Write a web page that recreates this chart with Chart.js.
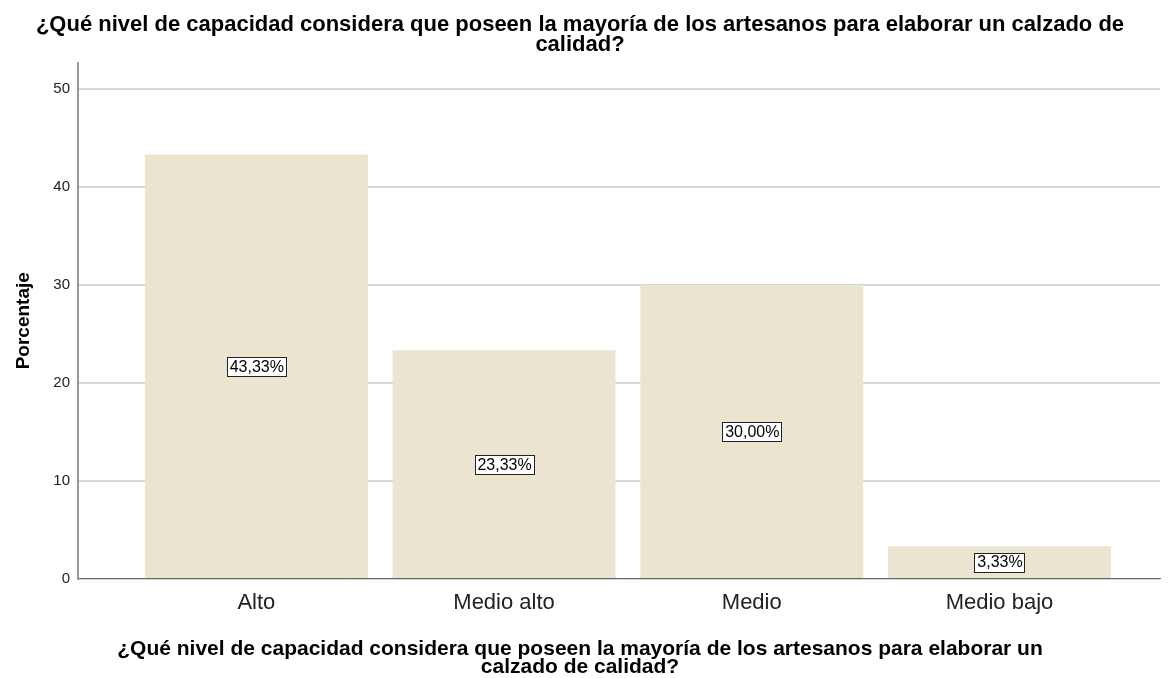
<!DOCTYPE html>
<html>
<head>
<meta charset="utf-8">
<script src="https://cdn.jsdelivr.net/npm/chart.js@4"></script>
<style>
  html, body { margin: 0; padding: 0; background: #fff; }
  #wrap { width: 1176px; height: 678px; }
</style>
</head>
<body>
<div id="wrap"><canvas id="grafico"></canvas></div>
<script>
const categorias = ['Alto', 'Medio alto', 'Medio', 'Medio bajo'];
const porcentajes = [43.33, 23.33, 30.00, 3.33];
const ticksY = [0, 10, 20, 30, 40, 50];
const pregunta = ['¿Qué nivel de capacidad considera que poseen la mayoría de los artesanos para elaborar un calzado de', 'calidad?'];
const preguntaEje = ['¿Qué nivel de capacidad considera que poseen la mayoría de los artesanos para elaborar un', 'calzado de calidad?'];

const fuente = "'Liberation Sans', Arial, sans-serif";

// etiquetas con recuadro en el centro de cada barra
const etiquetas = {
  id: 'etiquetas',
  afterDatasetsDraw(chart) {
    const ctx = chart.ctx;
    const meta = chart.getDatasetMeta(0);
    ctx.save();
    ctx.font = '16px ' + fuente;
    ctx.textAlign = 'center';
    ctx.textBaseline = 'middle';
    meta.data.forEach((bar, i) => {
      const txt = porcentajes[i].toFixed(2).replace('.', ',') + '%';
      const cy = (bar.y + bar.base) / 2;
      const w = Math.round(ctx.measureText(txt).width + 5);
      const h = 19;
      const x0 = Math.round(bar.x - w / 2);
      const y0 = Math.round(cy - h / 2);
      ctx.fillStyle = '#fff';
      ctx.fillRect(x0, y0, w, h);
      ctx.strokeStyle = '#222';
      ctx.lineWidth = 1;
      ctx.strokeRect(x0 + 0.5, y0 + 0.5, w, h);
      ctx.fillStyle = '#000';
      ctx.fillText(txt, bar.x + 0.5, cy + 1);
    });
    ctx.restore();
  }
};

new Chart(document.getElementById('grafico').getContext('2d'), {
  type: 'bar',
  data: {
    datasets: [{
      label: 'Porcentaje',
      data: porcentajes.map((v, i) => ({ x: i, y: v })),
      backgroundColor: '#EAE4D1',
      borderWidth: 0,
      barPercentage: 0.9,
      categoryPercentage: 1
    }]
  },
  plugins: [etiquetas],
  options: {
    responsive: true,
    maintainAspectRatio: false,
    animation: false,
    layout: { padding: { left: 0, right: 16, top: 0, bottom: 0 } },
    plugins: {
      legend: { display: false },
      tooltip: { enabled: false },
      title: {
        display: true,
        text: pregunta,
        color: '#000',
        font: { family: fuente, size: 22, weight: 'bold', lineHeight: 0.9 },
        padding: { top: 15, bottom: 8 }
      },
      subtitle: {
        display: true,
        position: 'bottom',
        text: preguntaEje,
        color: '#000',
        font: { family: fuente, size: 21, weight: 'bold', lineHeight: 0.85 },
        padding: { top: 13, bottom: 2 }
      }
    },
    scales: {
      x: {
        type: 'linear',
        offset: false,
        min: -0.72,
        max: 3.648,
        afterBuildTicks(scale) {
          scale.ticks = categorias.map((c, i) => ({ value: i }));
        },
        ticks: {
          callback: v => categorias[v],
          color: '#222',
          font: { family: fuente, size: 22 },
          padding: 11,
          maxRotation: 0,
          autoSkip: false
        },
        grid: { display: false, drawTicks: false, offset: false },
        border: { display: true, color: '#666', width: 1 }
      },
      y: {
        min: 0,
        max: 52.7,
        afterBuildTicks(scale) {
          scale.ticks = ticksY.map(v => ({ value: v }));
        },
        afterFit(scale) {
          scale.width = 78;
        },
        ticks: {
          color: '#222',
          font: { family: fuente, size: 15 },
          padding: 8
        },
        grid: { color: '#D6D6D6', lineWidth: 2, drawTicks: false },
        border: { display: true, color: '#999', width: 2 },
        title: {
          display: true,
          text: 'Porcentaje',
          color: '#000',
          font: { family: fuente, size: 19, weight: 'bold' },
          padding: { top: 12, bottom: 4 }
        }
      }
    }
  }
});
</script>
</body>
</html>
